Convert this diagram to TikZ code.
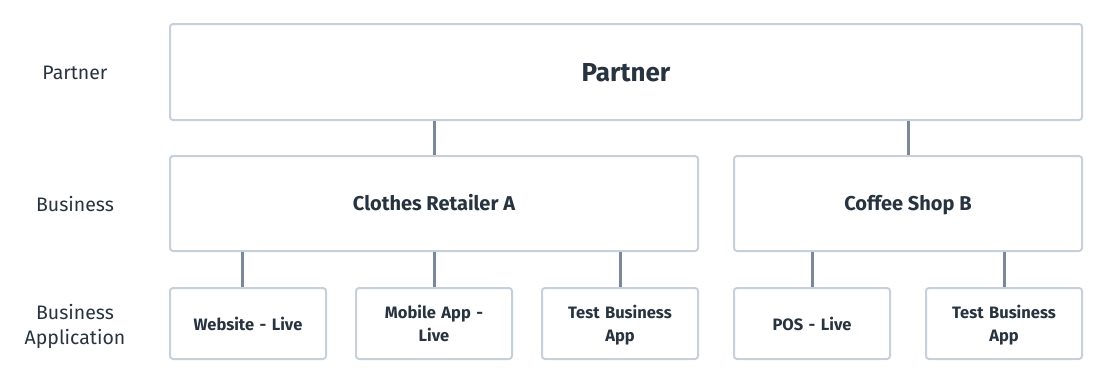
\documentclass[tikz,border=0pt]{standalone}
\usepackage{fontspec}
\setmainfont{Fira Sans}
\definecolor{boxline}{HTML}{C5D0DA}
\definecolor{connline}{HTML}{7A8898}
\definecolor{txt}{HTML}{27333F}
\newcommand\stt{\rule[-0.2\baselineskip]{0pt}{\baselineskip}}
\begin{document}
\begin{tikzpicture}[x=1pt,y=-1pt,
  box/.style={draw=boxline,line width=2pt,rounded corners=3pt,fill=white,text=txt,align=center,inner sep=0pt},
  big/.style={box,minimum height=95pt,font=\bfseries\fontsize{20}{24}\selectfont},
  small/.style={box,minimum width=156pt,minimum height=71pt,text width=150pt,font=\bfseries\fontsize{16.5}{23}\selectfont},
  lbl/.style={text=txt,align=center,font=\fontsize{19.5}{25}\selectfont},
  conn/.style={draw=connline,line width=3pt}]
\useasboundingbox (0,0) rectangle (1106,384);
\node[lbl] (lp) at (75,72) {\stt Partner};
\node[lbl] (lb) at (75,204) {\stt Business};
\node[lbl] (la) at (75,324) {\stt Business\\\stt Application};
\node[box,minimum width=912pt,minimum height=96pt,font=\bfseries\fontsize{26}{30}\selectfont] (partner) at (626,72) {\stt Partner};
\node[big,minimum width=528pt] (ret) at (434,203.5) {\stt Clothes Retailer A};
\node[big,minimum width=348pt] (cof) at (908,203.5) {\stt Coffee Shop B};
\node[small] (web) at (248,323.5) {\stt Website - Live};
\node[small] (mob) at (434,323.5) {\stt Mobile App -\\\stt Live};
\node[small] (tst) at (620,323.5) {\stt Test Business\\\stt App};
\node[small] (pos) at (812,323.5) {\stt POS - Live};
\node[small] (ts2) at (1004,323.5) {\stt Test Business\\\stt App};
\draw[conn] (ret.north) -- (ret.north |- partner.south);
\draw[conn] (cof.north) -- (cof.north |- partner.south);
\draw[conn] ([xshift=-6pt]web.north) -- ([xshift=-6pt]web.north |- ret.south);
\draw[conn] (mob.north) -- (mob.north |- ret.south);
\draw[conn] (tst.north) -- (tst.north |- ret.south);
\draw[conn] (pos.north) -- (pos.north |- cof.south);
\draw[conn] (ts2.north) -- (ts2.north |- cof.south);
\end{tikzpicture}
\end{document}
